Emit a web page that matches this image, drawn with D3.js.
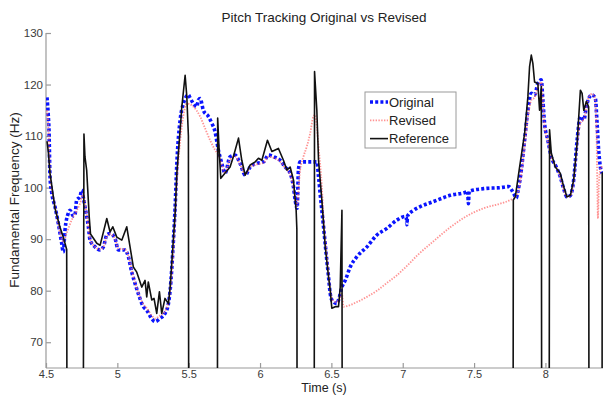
<!DOCTYPE html>
<html>
<head>
<meta charset="utf-8">
<script src="https://cdn.jsdelivr.net/npm/d3@7"></script>
<style>
  html, body { margin: 0; padding: 0; background: #fff; }
  svg { display: block; font-family: "Liberation Sans", Arial, sans-serif; }
</style>
</head>
<body>
<svg id="chart" width="603" height="395"></svg>
<script>
// Pitch contours (seconds, Hz). Reference drops to 0 Hz on unvoiced frames.
const originalTime = [4.507,4.516,4.521,4.528,4.540,4.563,4.586,4.610,4.621,4.633,4.656,4.668,4.691,4.703,4.715,4.738,4.750,4.762,4.773,4.797,4.809,4.844,4.879,4.902,4.926,4.949,4.984,5.007,5.054,5.077,5.101,5.124,5.147,5.182,5.206,5.241,5.264,5.299,5.334,5.358,5.370,5.393,5.405,5.417,5.440,5.463,5.498,5.510,5.533,5.557,5.568,5.580,5.603,5.638,5.662,5.685,5.708,5.732,5.755,5.790,5.825,5.860,5.896,5.931,5.978,6.024,6.059,6.094,6.141,6.176,6.211,6.234,6.246,6.260,6.269,6.281,6.340,6.398,6.410,6.421,6.445,6.468,6.480,6.492,6.503,6.515,6.539,6.550,6.574,6.597,6.632,6.679,6.749,6.819,6.889,6.959,7.018,7.025,7.029,7.034,7.076,7.123,7.216,7.333,7.450,7.455,7.460,7.466,7.567,7.684,7.742,7.777,7.796,7.807,7.831,7.854,7.877,7.901,7.924,7.947,7.971,7.982,7.994,8.017,8.041,8.076,8.104,8.128,8.151,8.175,8.198,8.222,8.245,8.269,8.287,8.303,8.327,8.350,8.362,8.373,8.385,8.397];
const originalHz = [117.5,114,111.2,102.1,99,96.3,93.1,89.2,87.5,91.7,95,95.6,94.5,94.7,97.6,98.2,99.5,98,96.3,92.4,89.8,88.5,87.9,88.5,90.8,91.1,90.1,87.9,87.9,86.6,83.6,81.4,79.4,76.9,76.2,74.6,74,74.6,75.6,77.5,80.1,89.8,96.3,104.7,113.1,116.3,118,117.4,116.3,115.7,117,117.3,115,113.8,112.5,110.8,107.3,104.7,102.8,106,106.3,104.7,102.4,104,104.7,105,106.3,106,105.3,104,102.8,100.2,97.6,96,103.4,105,105,105,102.1,98.9,92.4,85.9,82.7,79.4,78.2,77.8,77.5,78.2,80.7,82,84.6,86.6,88.5,90.8,92.1,93.7,94.4,94.3,92.8,94.5,95.6,96.3,97.3,98.5,99.2,99.3,96.9,99.3,99.8,100,100.2,98.9,98,99.2,103.4,109.2,115,118.3,118,120.2,120.9,117,112.5,109.2,106,104,102.1,99.8,98.2,98.5,101.5,109.2,113.8,113.1,115.7,117.3,118,117.3,112.5,107.3,104,102.8];

const revisedTime = [4.507,4.516,4.528,4.563,4.586,4.610,4.621,4.645,4.680,4.715,4.738,4.762,4.773,4.797,4.809,4.844,4.879,4.902,4.926,4.949,4.984,5.007,5.054,5.077,5.101,5.124,5.147,5.182,5.206,5.241,5.264,5.299,5.334,5.358,5.370,5.393,5.417,5.440,5.463,5.487,5.533,5.580,5.615,5.650,5.685,5.708,5.732,5.755,5.790,5.825,5.860,5.896,5.931,5.978,6.024,6.059,6.094,6.141,6.176,6.211,6.234,6.246,6.258,6.281,6.304,6.328,6.351,6.374,6.386,6.398,6.410,6.433,6.445,6.468,6.480,6.492,6.503,6.527,6.550,6.574,6.585,6.609,6.679,6.749,6.819,6.889,6.959,7.029,7.100,7.216,7.333,7.450,7.567,7.684,7.754,7.789,7.807,7.831,7.854,7.877,7.901,7.924,7.947,7.971,7.982,7.994,8.017,8.041,8.076,8.104,8.128,8.151,8.175,8.198,8.222,8.245,8.269,8.287,8.303,8.327,8.345,8.357,8.364,8.368,8.375,8.390,8.400];
const revisedHz = [115,112,103,96.5,93,90,89.5,91.2,93.7,95.5,96.9,98.9,97,92.4,90,88.5,88,88.5,90.5,91,90,88.2,88,86.8,84,81.6,79.6,77.4,76.6,75.2,74.6,75.2,76,77.8,80,88,101,109,114,116.3,115.7,113.8,111.5,109.2,107.3,106.3,104.5,102.8,105.5,106,104.5,102.6,104,104.5,104.8,106,105.8,105,103.8,102.5,100,97.8,96.5,103.4,106,108,110.5,113.8,114.1,111.8,108,100.2,94,87,83.5,80,78.6,77.8,78,79.4,76.9,77,77.8,78.8,80,81.5,83,84.8,86.8,89.6,92.3,94.5,96,96.9,97.6,98.2,99,102.5,108,113.5,117,117.5,119.5,120.5,117,112,109,106,104,102,99.6,98.2,98.4,101.2,108,112.5,113.3,115.5,117.5,118.2,117.5,112,100,94,101,104,104];

const referenceTime = [4.507,4.516,4.528,4.563,4.598,4.621,4.633,4.645,4.650,4.757,4.766,4.773,4.785,4.803,4.812,4.856,4.879,4.926,4.949,4.968,4.996,5.031,5.066,5.089,5.112,5.136,5.171,5.194,5.206,5.217,5.241,5.257,5.276,5.295,5.311,5.334,5.358,5.370,5.405,5.417,5.452,5.475,5.487,5.498,5.502,5.700,5.703,5.712,5.725,5.790,5.813,5.849,5.872,5.896,5.931,5.966,5.989,6.013,6.052,6.083,6.129,6.164,6.188,6.211,6.234,6.253,6.258,6.262,6.378,6.382,6.398,6.410,6.433,6.457,6.480,6.492,6.503,6.527,6.550,6.562,6.574,6.578,7.772,7.775,7.789,7.819,7.854,7.877,7.889,7.901,7.912,7.924,7.947,7.959,7.971,7.976,8.024,8.029,8.041,8.069,8.104,8.128,8.151,8.175,8.198,8.222,8.245,8.257,8.269,8.287,8.303,8.307,8.396,8.398];
const referenceHz = [109,107,102.8,96,92.3,90.4,89.2,88,0,0,110.4,106,103.4,94.3,91,89.2,88.8,94,91.4,92.4,90.4,89.8,92.4,88.5,84.6,83.6,80.7,82,78.8,81.7,78.2,78.5,75.6,79.8,75.6,78.5,77.5,80.7,95,102.8,115.7,121.8,117.6,110,0,0,113.5,108,101.8,104,106,109.6,105.3,102.4,104.4,105,105.7,105.3,109.2,107,107.6,105.3,103.4,104,101.5,95.6,92,0,0,122.5,115,105.3,97.6,88.5,82.7,80.1,76.6,76.9,76.9,80.7,95.6,0,0,97.6,98.2,104,110.5,117.6,123.5,125.7,124.1,120.5,120.2,115,119.6,0,0,111.2,106.7,104,102.8,100.2,98.2,98.5,101.5,108.6,118.9,118.3,115,116.7,115.7,0,0,103];

const xTicks = [4.5, 5, 5.5, 6, 6.5, 7, 7.5, 8];
const yTicks = [70, 80, 90, 100, 110, 120, 130];
const seriesNames = ["Original", "Revised", "Reference"];

const svg = d3.select("#chart");
const plotLeft = 46, plotRight = 602.5, plotTop = 33, plotBottom = 368;

const x = d3.scaleLinear().domain([4.5, 8.4]).range([plotLeft, plotRight]);
const y = d3.scaleLinear().domain([65, 130]).range([plotBottom, plotTop]);

svg.append("defs").append("clipPath").attr("id", "plotClip")
  .append("rect").attr("x", plotLeft).attr("y", plotTop - 2)
  .attr("width", plotRight - plotLeft + 5).attr("height", plotBottom - plotTop + 2);

// axes: ticks point inward
const axisColor = "#9a9a9a";
const xAxis = svg.append("g").attr("transform", `translate(0,${plotBottom})`)
  .call(d3.axisBottom(x).tickValues(xTicks).tickFormat(d3.format("")).tickSizeInner(-5).tickSizeOuter(0).tickPadding(2));
const yAxis = svg.append("g").attr("transform", `translate(${plotLeft},0)`)
  .call(d3.axisLeft(y).tickValues(yTicks).tickSizeInner(-5).tickSizeOuter(0).tickPadding(3));
[xAxis, yAxis].forEach(g => {
  g.select(".domain").attr("stroke", axisColor).attr("stroke-width", 1.2);
  g.selectAll(".tick line").attr("stroke", axisColor).attr("stroke-width", 1.2);
  g.selectAll(".tick text").attr("fill", "#3a3a3a").attr("font-size", 11.5)
    .attr("font-family", "Liberation Sans, Arial, sans-serif");
});
xAxis.selectAll(".tick text").attr("font-size", 11);
yAxis.select(".domain").attr("d", `M0,${y(65)}V${y(130)}`);
xAxis.select(".domain").attr("d", `M${plotLeft},0H${plotRight + 2}`);

const zip = (ts, vs) => ts.map((t, i) => [t, vs[i]]);

const styles = {
  Original:  { stroke: "#0a14ff", width: 3.6, dash: "3,2.2", opacity: 1, curve: d3.curveMonotoneX },
  Revised:   { stroke: "#ff6f6f", width: 1.8, dash: "1.4,1.4", opacity: 0.75, curve: d3.curveMonotoneX },
  Reference: { stroke: "#111111", width: 1.6, dash: null, opacity: 1, curve: d3.curveLinear }
};
const data = {
  Original: zip(originalTime, originalHz),
  Revised: zip(revisedTime, revisedHz),
  Reference: zip(referenceTime, referenceHz)
};

const plot = svg.append("g").attr("clip-path", "url(#plotClip)");
seriesNames.forEach(name => {
  const s = styles[name];
  const line = d3.line().x(d => x(d[0])).y(d => y(d[1])).curve(s.curve);
  plot.append("path").datum(data[name])
    .attr("d", line).attr("fill", "none")
    .attr("stroke", s.stroke).attr("stroke-width", s.width)
    .attr("stroke-dasharray", s.dash).attr("stroke-opacity", s.opacity)
    .attr("stroke-linejoin", "round");
});

// title and axis labels
svg.append("text").attr("x", 324).attr("y", 22).attr("text-anchor", "middle")
  .attr("font-size", 13.5).attr("fill", "#222").text("Pitch Tracking Original vs Revised");
svg.append("text").attr("x", 324).attr("y", 392.2).attr("text-anchor", "middle")
  .attr("font-size", 12.5).attr("fill", "#222").text("Time (s)");
svg.append("text").attr("transform", "translate(18.5,200) rotate(-90)").attr("text-anchor", "middle")
  .attr("font-size", 13.5).attr("fill", "#222").text("Fundamental Frequency (Hz)");

// legend
const lg = svg.append("g").attr("transform", "translate(365,92)");
lg.append("rect").attr("width", 91).attr("height", 56).attr("fill", "#fff")
  .attr("stroke", "#9a9a9a").attr("stroke-width", 1);
seriesNames.forEach((name, i) => {
  const s = styles[name];
  const yy = 10 + i * 18.3;
  lg.append("line").attr("x1", 5).attr("x2", 23).attr("y1", yy).attr("y2", yy)
    .attr("stroke", s.stroke).attr("stroke-width", s.width)
    .attr("stroke-dasharray", s.dash).attr("stroke-opacity", s.opacity);
  lg.append("text").attr("x", 24).attr("y", yy + 4.5).attr("font-size", 13)
    .attr("fill", "#222").text(name);
});
</script>
</body>
</html>
